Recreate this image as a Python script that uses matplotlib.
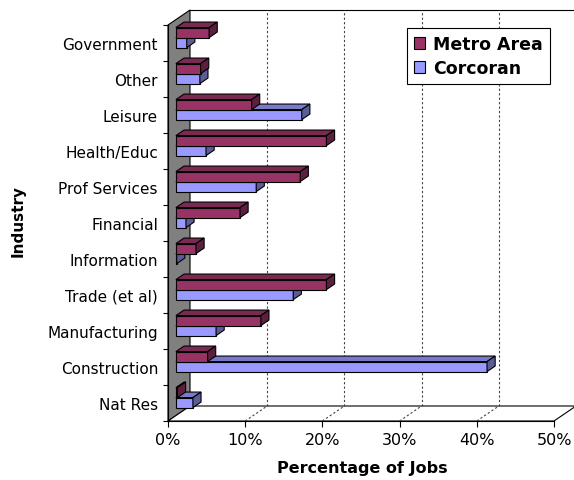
import matplotlib.pyplot as plt
from matplotlib.patches import Polygon, Patch

# industries, bottom to top
industries = ['Nat Res', 'Construction', 'Manufacturing', 'Trade (et al)',
              'Information', 'Financial', 'Prof Services', 'Health/Educ',
              'Leisure', 'Other', 'Government']
metro = [0.2, 4.1, 11.0, 19.5, 2.6, 8.3, 16.1, 19.5, 9.8, 3.2, 4.3]
corcoran = [2.2, 40.3, 5.2, 15.2, 0.1, 1.3, 10.4, 3.9, 16.3, 3.1, 1.4]
xticks = [0, 10, 20, 30, 40, 50]

W, H = 574, 481
PT = 72 / 100.0  # points per pixel
fig = plt.figure(figsize=(W / 100, H / 100), dpi=100)
ax = fig.add_axes([168 / W, (H - 422) / H, 406 / W, 411 / H])

pxx = 386 / 50.0          # pixels per percent
pxy = 36.0                # pixels per category
dx = 22 / pxx             # depth offset in data units
dy = 15 / pxy
ax.set_xlim(0, 406 / pxx)
ax.set_ylim(-0.5, -0.5 + 411 / pxy)
n = len(industries)
top = n - 0.5
lw = 0.8

# side wall and floor
ax.add_patch(Polygon([(0, -0.5), (0, top), (dx, top + dy), (dx, -0.5 + dy)],
                     closed=True, fc='#808080', ec='black', lw=lw, clip_on=False, zorder=1))
ax.add_patch(Polygon([(0, -0.5), (50, -0.5), (50 + dx, -0.5 + dy), (dx, -0.5 + dy)],
                     closed=True, fc='white', ec='black', lw=lw, clip_on=False, zorder=1))
ax.plot([dx, 50 + dx], [top + dy, top + dy], color='black', lw=lw, clip_on=False, zorder=1)

# gridlines on back wall and floor
for v in xticks[1:-1]:
    ax.plot([v + dx, v + dx], [-0.5 + dy, top + dy], color='#444444', lw=0.8,
            ls=(0, (2, 2)), zorder=1.5)
    ax.plot([v, v + dx], [-0.5, -0.5 + dy], color='#444444', lw=0.8,
            ls=(0, (2, 2)), zorder=1.5)

# 3d bars
f0, f1 = 0.36, 0.73
bh = 10 / pxy
ddx, ddy = (f1 - f0) * dx, (f1 - f0) * dy
styles = {'metro': ('#993366', '#7a2952', '#5c1f3d'),
          'corc': ('#9999ff', '#7a7acc', '#5c5c99')}


def bar3d(x0, y0, val, cols):
    front, topc, side = cols
    x1 = x0 + val
    ax.add_patch(Polygon([(x0, y0), (x1, y0), (x1, y0 + bh), (x0, y0 + bh)],
                         fc=front, ec='black', lw=lw, zorder=3))
    ax.add_patch(Polygon([(x0, y0 + bh), (x1, y0 + bh), (x1 + ddx, y0 + bh + ddy),
                          (x0 + ddx, y0 + bh + ddy)], fc=topc, ec='black', lw=lw, zorder=3))
    ax.add_patch(Polygon([(x1, y0), (x1 + ddx, y0 + ddy), (x1 + ddx, y0 + bh + ddy),
                          (x1, y0 + bh)], fc=side, ec='black', lw=lw, zorder=3))


for i in range(n):
    x0 = f0 * dx
    yc = i + f0 * dy
    bar3d(x0, yc - bh, corcoran[i], styles['corc'])
    bar3d(x0, yc, metro[i], styles['metro'])

# axes
for s in ['top', 'right']:
    ax.spines[s].set_visible(False)
ax.spines['left'].set_bounds(-0.5, top)
ax.spines['bottom'].set_bounds(0, 50)
for s in ['left', 'bottom']:
    ax.spines[s].set_linewidth(lw)
    ax.spines[s].set_zorder(2)

ax.set_yticks([k - 0.5 for k in range(n + 1)])
ax.set_yticklabels([])
ax.set_yticks(range(n), minor=True)
ax.set_yticklabels(industries, minor=True, fontsize=11)
ax.tick_params(axis='y', which='major', length=5 * PT, width=lw)
ax.tick_params(axis='y', which='minor', length=0, pad=10 * PT)
ax.set_xticks(xticks)
ax.set_xticklabels([f'{v}%' for v in xticks], fontsize=11.5)
ax.tick_params(axis='x', length=6 * PT, width=lw, pad=5 * PT)

fig.text(18 / W, 1 - 221 / H, 'Industry', rotation=90, ha='center', va='center',
         fontsize=11, fontweight='bold')
fig.text(362 / W, 1 - 469 / H, 'Percentage of Jobs', ha='center', va='center',
         fontsize=11.5, fontweight='bold')

handles = [Patch(fc='#993366', ec='black', lw=lw), Patch(fc='#9999ff', ec='black', lw=lw)]
leg = ax.legend(handles, ['Metro Area', 'Corcoran'], loc='upper left',
                bbox_to_anchor=(407 / W, 1 - 29 / H), bbox_transform=fig.transFigure,
                borderaxespad=0, fancybox=False, framealpha=1, edgecolor='black',
                handlelength=0.65, handleheight=0.65, handletextpad=0.45,
                labelspacing=0.35, borderpad=0.4, prop={'weight': 'bold', 'size': 12.5})
leg.get_frame().set_linewidth(lw)
leg.set_zorder(5)

fig.savefig('out.png', dpi=100)
